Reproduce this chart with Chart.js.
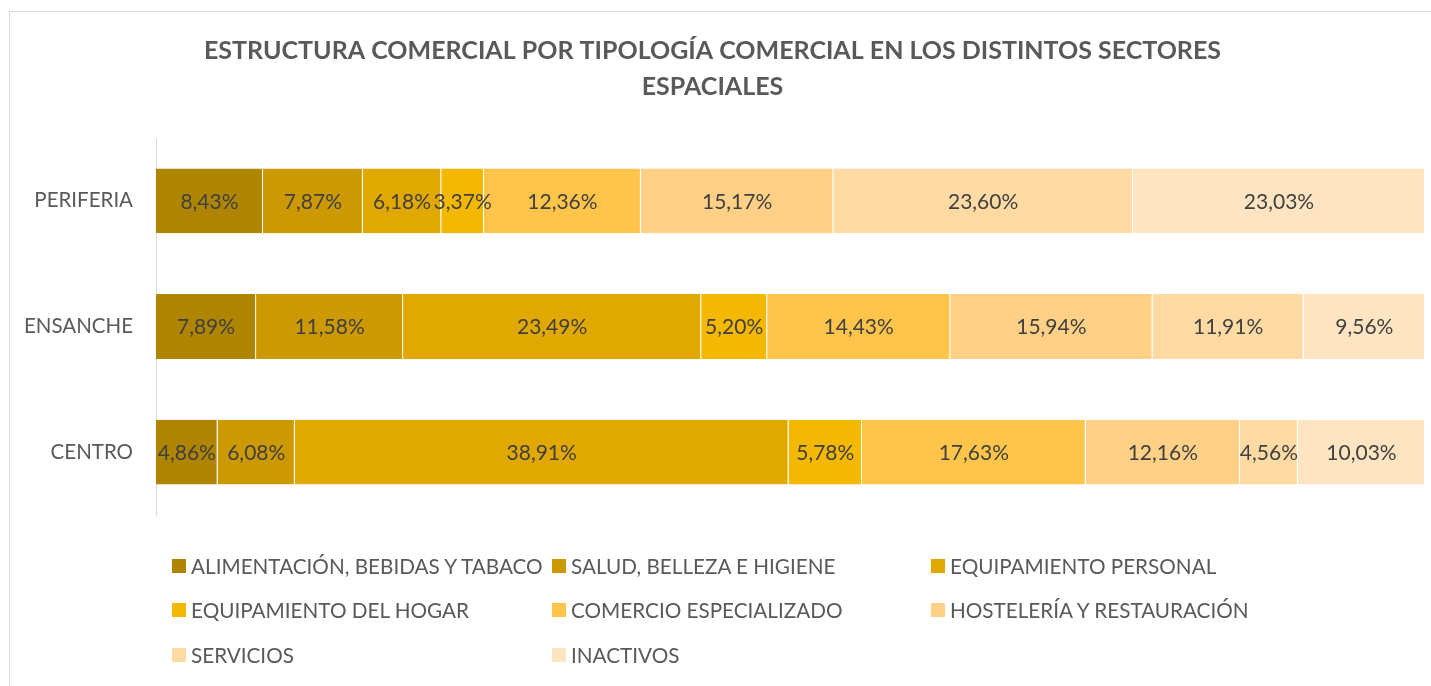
<!DOCTYPE html>
<html>
<head>
<meta charset="utf-8">
<script src="https://cdn.jsdelivr.net/npm/chart.js@4/dist/chart.umd.min.js"></script>
<style>
  html, body { margin: 0; padding: 0; background: #fff; }
  body { width: 1431px; height: 686px; position: relative; overflow: hidden; font-family: Lato, "Open Sans", sans-serif; }
  #frame { position: absolute; left: 9px; top: 11px; width: 1440px; height: 700px; border: 1px solid #d9d9d9; box-sizing: border-box; }
  #wrap { position: absolute; left: 0; top: 0; width: 1431px; height: 686px; }
  #legend { position: absolute; left: 0; top: 0; width: 1431px; height: 686px; pointer-events: none; }
  .lg { position: absolute; display: flex; align-items: center; font-size: 20.7px; color: #595959; white-space: nowrap; }
  .lg i { display: inline-block; width: 14px; height: 14px; margin-right: 5px; }
</style>
</head>
<body>
<div id="frame"></div>
<div id="wrap"><canvas id="chart" width="1431" height="686"></canvas></div>
<div id="legend"></div>
<script>
const title = ["ESTRUCTURA COMERCIAL POR TIPOLOGÍA COMERCIAL EN LOS DISTINTOS SECTORES", "ESPACIALES"];
const sectors = ["PERIFERIA", "ENSANCHE", "CENTRO"];
const categories = [
  "ALIMENTACIÓN, BEBIDAS Y TABACO",
  "SALUD, BELLEZA E HIGIENE",
  "EQUIPAMIENTO PERSONAL",
  "EQUIPAMIENTO DEL HOGAR",
  "COMERCIO ESPECIALIZADO",
  "HOSTELERÍA Y RESTAURACIÓN",
  "SERVICIOS",
  "INACTIVOS"
];
// one array per category: PERIFERIA, ENSANCHE, CENTRO
const alimentacion = [8.43, 7.89, 4.86];
const salud = [7.87, 11.58, 6.08];
const eqPersonal = [6.18, 23.49, 38.91];
const eqHogar = [3.37, 5.20, 5.78];
const especializado = [12.36, 14.43, 17.63];
const hosteleria = [15.17, 15.94, 12.16];
const servicios = [23.60, 11.91, 4.56];
const inactivos = [23.03, 9.56, 10.03];
const seriesValues = [alimentacion, salud, eqPersonal, eqHogar, especializado, hosteleria, servicios, inactivos];
const colors = ["#af8500", "#cc9900", "#e0a800", "#f5b800", "#ffc44a", "#ffd085", "#ffdba3", "#ffe4c2"];

const pct = (v) => v.toFixed(2).replace(".", ",") + "%";

// data labels centred in each segment
const segLabels = {
  id: "segLabels",
  afterDatasetsDraw(chart) {
    const ctx = chart.ctx;
    ctx.save();
    ctx.font = "21px Lato, 'Open Sans', sans-serif";
    ctx.fillStyle = "#404040";
    ctx.textAlign = "center";
    ctx.textBaseline = "middle";
    chart.data.datasets.forEach((ds, i) => {
      chart.getDatasetMeta(i).data.forEach((bar, j) => {
        const x = (bar.x + bar.base) / 2;
        ctx.fillText(pct(ds.data[j]), x, bar.y + 1);
      });
    });
    ctx.restore();
  }
};

new Chart(document.getElementById("chart"), {
  type: "bar",
  data: {
    labels: sectors,
    datasets: categories.map((c, i) => ({
      label: c,
      data: seriesValues[i],
      backgroundColor: colors[i],
      borderColor: "rgba(255,255,255,0.45)",
      borderWidth: { right: 1 },
      borderSkipped: false,
      categoryPercentage: 1,
      barPercentage: 0.516,
    })),
  },
  options: {
    indexAxis: "y",
    responsive: false,
    animation: false,
    layout: { padding: { left: 0, right: 6, top: 0, bottom: 171 } },
    plugins: {
      legend: { display: false },
      tooltip: { enabled: false },
      title: {
        display: true,
        text: title,
        color: "#595959",
        font: { family: "Lato, 'Open Sans', sans-serif", size: 25, weight: "bold", lineHeight: 1.44 },
        padding: { top: 33, bottom: 33 },
      },
    },
    scales: {
      x: { stacked: true, min: 0, max: 100, display: false },
      y: {
        stacked: true,
        grid: { display: false },
        border: { display: true, color: "#d9d9d9", width: 1 },
        ticks: { color: "#595959", padding: 15, font: { family: "Lato, 'Open Sans', sans-serif", size: 20.5 } },
        afterFit(scale) { scale.width = 156; },
      },
    },
  },
  plugins: [segLabels],
});

// legend laid out in three columns like the original
const legend = document.getElementById("legend");
const colX = [172, 552, 931];
const rowY = [567, 611, 656];
categories.forEach((c, i) => {
  const el = document.createElement("div");
  el.className = "lg";
  el.style.left = colX[i % 3] + "px";
  el.style.top = (rowY[Math.floor(i / 3)] - 13) + "px";
  el.innerHTML = `<i style="background:${colors[i]}"></i>${c}`;
  legend.appendChild(el);
});
</script>
</body>
</html>
